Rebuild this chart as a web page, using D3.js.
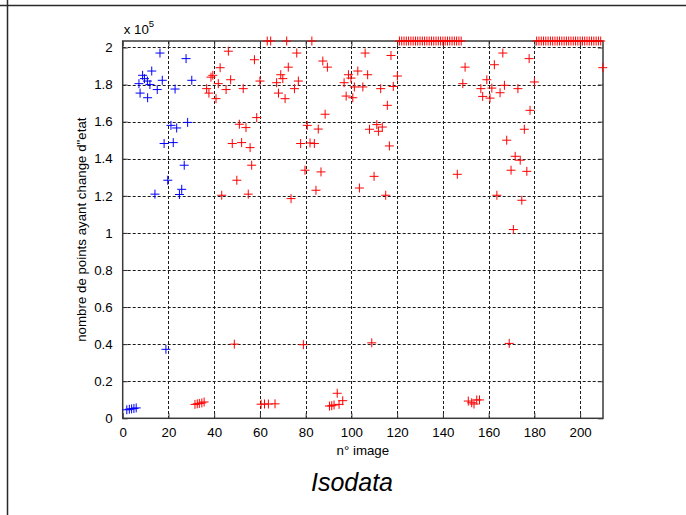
<!DOCTYPE html>
<html>
<head>
<meta charset="utf-8">
<script src="https://cdn.jsdelivr.net/npm/d3@7"></script>
<style>
  html, body { margin: 0; padding: 0; background: #fff; }
  svg { display: block; }
  text { font-family: "Liberation Sans", Arial, Helvetica, sans-serif; fill: #000; }
</style>
</head>
<body>
<svg id="chart" width="686" height="515"></svg>
<script>
// Values are in units of 10^5 points.
const xTicks = [0, 20, 40, 60, 80, 100, 120, 140, 160, 180, 200];
const yTicks = [0, 0.2, 0.4, 0.6, 0.8, 1, 1.2, 1.4, 1.6, 1.8, 2];
const yTickLabels = ["0", "0.2", "0.4", "0.6", "0.8", "1", "1.2", "1.4", "1.6", "1.8", "2"];

// First images (blue cluster)
const blueX = [16.3, 27.7, 12.7, 8.7, 9.5, 10.8, 7.1, 17.3, 11.9, 30.2, 7.6, 15.1,
  10.9, 22.9, 21.1, 23.6, 28.4, 18.1, 22.1, 26.9, 19.7, 25.8, 14.1, 24.8,
  18.9, 1.8, 2.9, 3.9, 4.9, 5.9];
const blueY = [1.970, 1.940, 1.873, 1.850, 1.832, 1.819, 1.805, 1.823, 1.800, 1.823, 1.754, 1.773,
  1.729, 1.776, 1.580, 1.566, 1.596, 1.482, 1.487, 1.365, 1.284, 1.235, 1.209, 1.207,
  0.372, 0.046, 0.049, 0.051, 0.053, 0.056];

// Remaining images (red)
const redX = [
  46.2, 76.1, 57.6, 87.5, 42.6, 72.4, 89.5, 39.4, 69.1, 38.6, 70.0, 47.2, 60.0, 67.3, 76.8,
  41.8, 36.7, 45.2, 52.7, 75.1, 37.7, 68.1, 40.8, 71.0, 58.6, 88.5, 51.0, 53.9, 80.7, 85.5,
  47.9, 52.0, 55.7, 77.8, 81.9, 83.8, 56.4, 79.7, 86.7, 49.9, 84.5, 43.3, 54.9, 73.6,
  106.0, 117.3, 102.8, 107.1, 98.7, 99.8, 120.1, 96.8, 101.3, 105.0, 112.8, 118.3, 97.7, 100.6,
  115.7, 111.1, 113.5, 107.9, 111.8, 116.6, 109.9, 103.5, 115.0, 146.3,
  166.2, 177.7, 149.7, 162.5, 159.2, 148.7, 180.0, 166.9, 156.6, 161.4, 172.8, 165.0, 157.4, 160.6,
  209.9, 178.1, 175.6, 167.9, 171.6, 173.8, 169.8, 176.7, 163.6, 174.5, 170.8,
  48.8, 79.0, 108.9, 169.0,
  31.6, 32.6, 33.5, 34.6, 35.6,
  60.5, 62.0, 63.7, 66.6,
  90.4, 91.4, 92.4, 93.8, 94.6, 96.2,
  151.1, 152.6, 153.6, 154.8, 156.0,
  63.2, 64.7, 71.7, 82.7,
  121, 122, 123, 124, 125, 126, 127, 128, 129, 130, 131, 132, 133, 134,
  135, 136, 137, 138, 139, 140, 141, 142, 143, 144, 145, 146, 147, 148,
  181, 182, 183, 184, 185, 186, 187, 188, 189, 190, 191, 192, 193, 194, 195,
  196, 197, 198, 199, 200, 201, 202, 203, 204, 205, 206, 207, 208, 209
];
const redY = [
  1.980, 1.970, 1.934, 1.927, 1.891, 1.894, 1.894, 1.850, 1.853, 1.840, 1.832, 1.826, 1.819, 1.810, 1.819,
  1.805, 1.778, 1.773, 1.778, 1.778, 1.754, 1.754, 1.724, 1.724, 1.622, 1.640, 1.586, 1.568, 1.580, 1.560,
  1.482, 1.487, 1.460, 1.482, 1.485, 1.482, 1.365, 1.338, 1.329, 1.284, 1.230, 1.203, 1.209, 1.185,
  1.970, 1.957, 1.873, 1.853, 1.853, 1.835, 1.846, 1.810, 1.787, 1.787, 1.778, 1.790, 1.738, 1.729,
  1.688, 1.584, 1.571, 1.559, 1.548, 1.469, 1.305, 1.242, 1.203, 1.316,
  1.970, 1.940, 1.894, 1.907, 1.826, 1.805, 1.814, 1.796, 1.778, 1.781, 1.778, 1.756, 1.736, 1.727,
  1.891, 1.661, 1.559, 1.500, 1.413, 1.392, 1.338, 1.332, 1.203, 1.176, 1.018,
  0.400, 0.397, 0.407, 0.404,
  0.075, 0.078, 0.080, 0.083, 0.088,
  0.076, 0.077, 0.077, 0.078,
  0.066, 0.068, 0.072, 0.135, 0.075, 0.095,
  0.093, 0.084, 0.077, 0.099, 0.099,
  2.035, 2.035, 2.035, 2.035,
  2.035, 2.035, 2.035, 2.035, 2.035, 2.035, 2.035, 2.035, 2.035, 2.035, 2.035, 2.035, 2.035, 2.035,
  2.035, 2.035, 2.035, 2.035, 2.035, 2.035, 2.035, 2.035, 2.035, 2.035, 2.035, 2.035, 2.035, 2.035,
  2.035, 2.035, 2.035, 2.035, 2.035, 2.035, 2.035, 2.035, 2.035, 2.035, 2.035, 2.035, 2.035, 2.035, 2.035,
  2.035, 2.035, 2.035, 2.035, 2.035, 2.035, 2.035, 2.035, 2.035, 2.035, 2.035, 2.035, 2.035, 2.035
];

const xDomain = [0, 210];
const yDomain = [0, 2.035];

const svg = d3.select("#chart");
const W = 686, H = 515;
const plot = { left: 122.7, right: 603, top: 41, bottom: 418.3 };

const x = d3.scaleLinear().domain(xDomain).range([plot.left, plot.right]);
const y = d3.scaleLinear().domain(yDomain).range([plot.bottom, plot.top]);

// Outer frame lines
svg.append("line").attr("x1", 0).attr("x2", W).attr("y1", 5.5).attr("y2", 5.5)
  .attr("stroke", "#2a2a2a").attr("stroke-width", 1.5);
svg.append("line").attr("x1", 7.5).attr("x2", 7.5).attr("y1", 0).attr("y2", H)
  .attr("stroke", "#2a2a2a").attr("stroke-width", 1.5);

// Dashed grid
const grid = svg.append("g").attr("stroke", "#1a1a1a").attr("stroke-width", 1)
  .attr("stroke-dasharray", "3,2");
xTicks.filter(t => t > xDomain[0] && t < xDomain[1]).forEach(t => {
  grid.append("line").attr("x1", Math.round(x(t)) + 0.5).attr("x2", Math.round(x(t)) + 0.5)
    .attr("y1", plot.top).attr("y2", plot.bottom);
});
yTicks.filter(t => t > yDomain[0] && t < yDomain[1]).forEach(t => {
  grid.append("line").attr("y1", Math.round(y(t)) + 0.5).attr("y2", Math.round(y(t)) + 0.5)
    .attr("x1", plot.left).attr("x2", plot.right);
});

// Axes with inward ticks on all four sides
const tickLen = 5;
const fontSize = 13.3;
const axBottom = d3.axisBottom(x).tickValues(xTicks).tickSizeInner(-tickLen).tickSizeOuter(0)
  .tickPadding(tickLen + 4).tickFormat(d3.format("d"));
const axTop = d3.axisTop(x).tickValues(xTicks).tickSizeInner(-tickLen).tickSizeOuter(0)
  .tickFormat("");
const axLeft = d3.axisLeft(y).tickValues(yTicks).tickSizeInner(-tickLen).tickSizeOuter(0)
  .tickPadding(tickLen + 5).tickFormat((d, i) => yTickLabels[i]);
const axRight = d3.axisRight(y).tickValues(yTicks).tickSizeInner(-tickLen).tickSizeOuter(0)
  .tickFormat("");

function styleAxis(g) {
  g.select(".domain").remove();
  g.selectAll(".tick line").attr("stroke", "#333").attr("stroke-width", 1);
  g.selectAll(".tick text").attr("font-size", fontSize)
    .attr("font-family", "Liberation Sans, Arial, sans-serif").attr("fill", "#000");
}
svg.append("g").attr("transform", `translate(0,${plot.bottom})`).call(axBottom).call(styleAxis);
svg.append("g").attr("transform", `translate(0,${plot.top})`).call(axTop).call(styleAxis);
svg.append("g").attr("transform", `translate(${plot.left},0)`).call(axLeft).call(styleAxis);
svg.append("g").attr("transform", `translate(${plot.right},0)`).call(axRight).call(styleAxis);

// Axes box
svg.append("rect").attr("x", plot.left).attr("y", plot.top)
  .attr("width", plot.right - plot.left).attr("height", plot.bottom - plot.top)
  .attr("fill", "none").attr("stroke", "#3a3a3a").attr("stroke-width", 1.5);

// Exponent label
const expo = svg.append("text").attr("x", plot.left + 1).attr("y", 33.5)
  .attr("font-size", fontSize);
expo.append("tspan").text("x 10");
expo.append("tspan").attr("dy", -7).attr("font-size", 9.5).text("5");

// "+" markers
const plus = "M-4.5,0H4.5M0,-4.5V4.5";
function drawSeries(xs, ys, color) {
  const pts = xs.map((v, i) => [v, ys[i]]);
  svg.append("g").selectAll("path").data(pts).join("path")
    .attr("d", plus)
    .attr("transform", d => `translate(${x(d[0])},${y(d[1])})`)
    .attr("stroke", color).attr("stroke-width", 1).attr("fill", "none");
}
drawSeries(blueX, blueY, "#0000ff");
drawSeries(redX, redY, "#ff0000");

// Axis labels and caption
svg.append("text").attr("x", (plot.left + plot.right) / 2).attr("y", 455)
  .attr("text-anchor", "middle").attr("font-size", fontSize).text("n° image");
svg.append("text")
  .attr("transform", `translate(86,${(plot.top + plot.bottom) / 2}) rotate(-90)`)
  .attr("text-anchor", "middle").attr("font-size", fontSize)
  .text("nombre de points ayant change d\"etat");
svg.append("text").attr("x", 352).attr("y", 491).attr("text-anchor", "middle")
  .attr("font-size", 25).attr("font-style", "italic").text("Isodata");
</script>
</body>
</html>
